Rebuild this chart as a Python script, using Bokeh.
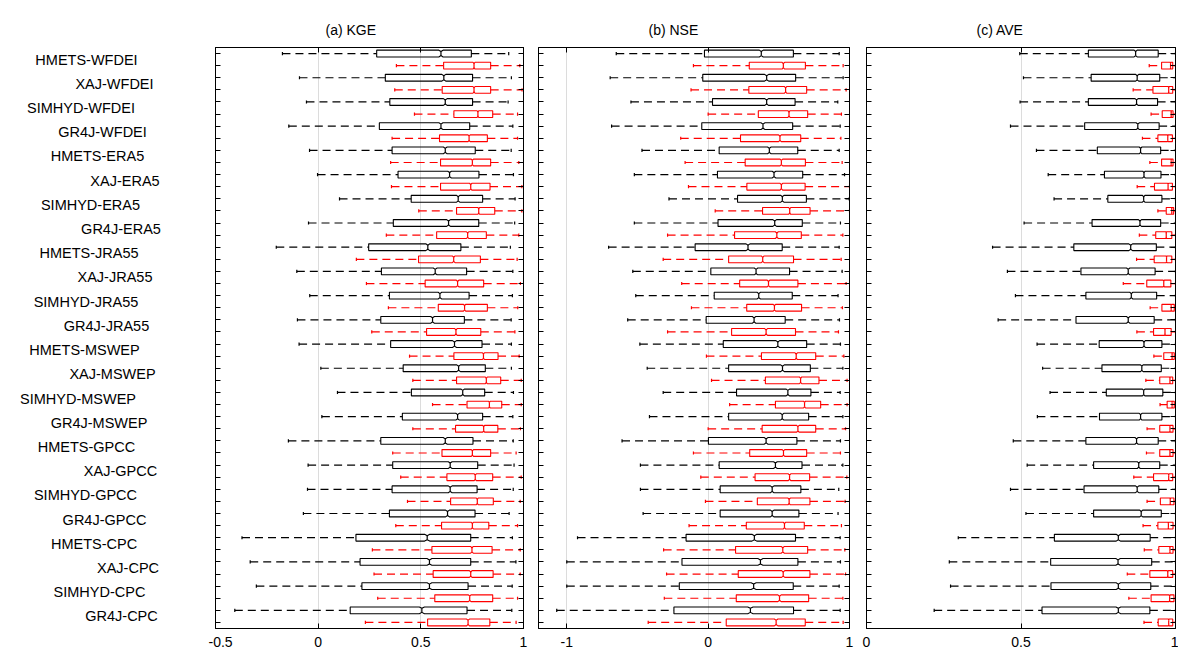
import numpy as np
from bokeh.plotting import figure
from bokeh.layouts import row
from bokeh.models import Range1d, FixedTicker, LinearAxis, ColumnDataSource
from bokeh.embed import file_html
from bokeh.resources import INLINE
from bokeh.core.properties import value

# ---------------- data ----------------
labels = ["HMETS-WFDEI", "XAJ-WFDEI", "SIMHYD-WFDEI", "GR4J-WFDEI",
          "HMETS-ERA5", "XAJ-ERA5", "SIMHYD-ERA5", "GR4J-ERA5",
          "HMETS-JRA55", "XAJ-JRA55", "SIMHYD-JRA55", "GR4J-JRA55",
          "HMETS-MSWEP", "XAJ-MSWEP", "SIMHYD-MSWEP", "GR4J-MSWEP",
          "HMETS-GPCC", "XAJ-GPCC", "SIMHYD-GPCC", "GR4J-GPCC",
          "HMETS-CPC", "XAJ-CPC", "SIMHYD-CPC", "GR4J-CPC"]
# rows alternate: black (first of each pair) then red
row_colors = ["#000000", "#ff0000"] * 24

kge_lo = [-0.174, 0.381, -0.091, 0.373, -0.057, 0.469, -0.143, 0.360, -0.042, 0.353, -0.003, 0.357,
          0.104, 0.490, -0.047, 0.332, -0.204, 0.186, -0.104, 0.235, -0.041, 0.342, -0.101, 0.261,
          -0.093, 0.445, 0.013, 0.461, 0.094, 0.557, 0.018, 0.461, -0.145, 0.363, -0.049, 0.402,
          -0.052, 0.435, -0.072, 0.378, -0.371, 0.264, -0.331, 0.272, -0.301, 0.290, -0.406, 0.230]
kge_q1 = [0.285, 0.611, 0.327, 0.604, 0.349, 0.661, 0.298, 0.591, 0.360, 0.596, 0.389, 0.596,
          0.453, 0.674, 0.366, 0.577, 0.246, 0.489, 0.308, 0.521, 0.347, 0.585, 0.305, 0.528,
          0.353, 0.661, 0.414, 0.674, 0.454, 0.725, 0.410, 0.669, 0.305, 0.603, 0.363, 0.627,
          0.360, 0.645, 0.347, 0.601, 0.184, 0.554, 0.204, 0.560, 0.213, 0.568, 0.156, 0.533]
kge_med = [0.598, 0.759, 0.612, 0.759, 0.619, 0.778, 0.598, 0.735, 0.619, 0.751, 0.640, 0.743,
           0.682, 0.782, 0.635, 0.728, 0.534, 0.660, 0.570, 0.679, 0.593, 0.713, 0.557, 0.671,
           0.664, 0.805, 0.684, 0.819, 0.704, 0.834, 0.679, 0.806, 0.619, 0.751, 0.643, 0.765,
           0.643, 0.775, 0.630, 0.751, 0.531, 0.749, 0.542, 0.743, 0.542, 0.738, 0.505, 0.730]
kge_q3 = [0.746, 0.840, 0.752, 0.840, 0.752, 0.850, 0.738, 0.824, 0.765, 0.840, 0.783, 0.837,
          0.801, 0.860, 0.782, 0.819, 0.695, 0.790, 0.723, 0.806, 0.735, 0.824, 0.712, 0.792,
          0.798, 0.876, 0.814, 0.889, 0.811, 0.894, 0.801, 0.875, 0.754, 0.840, 0.777, 0.850,
          0.774, 0.853, 0.764, 0.831, 0.743, 0.847, 0.743, 0.852, 0.730, 0.850, 0.725, 0.836]
kge_hi = [0.928, 0.982, 0.941, 0.993, 0.925, 0.971, 0.948, 0.971, 0.940, 0.977, 0.951, 0.992,
          0.959, 0.992, 0.957, 0.977, 0.936, 0.969, 0.948, 0.985, 0.946, 0.972, 0.940, 0.958,
          0.941, 0.979, 0.941, 0.989, 0.951, 0.989, 0.948, 0.985, 0.950, 0.964, 0.954, 0.989,
          0.950, 0.984, 0.930, 0.971, 0.946, 0.984, 0.963, 0.984, 0.945, 0.971, 0.943, 0.964]

nse_lo = [-0.650, -0.104, -0.693, -0.121, -0.546, 0.000, -0.683, -0.194, -0.468, -0.163, -0.522, -0.139,
          -0.277, 0.050, -0.522, -0.287, -0.704, -0.318, -0.533, -0.187, -0.512, -0.118, -0.569, -0.287,
          -0.483, -0.012, -0.431, 0.024, -0.318, 0.152, -0.415, 0.000, -0.609, -0.104, -0.479, -0.052,
          -0.479, -0.019, -0.460, -0.135, -0.924, -0.315, -1.000, -0.294, -1.000, -0.310, -1.071, -0.424]
nse_q1 = [-0.026, 0.291, -0.038, 0.288, 0.031, 0.355, -0.045, 0.229, 0.078, 0.262, 0.066, 0.274,
          0.208, 0.385, 0.070, 0.187, -0.092, 0.145, 0.019, 0.223, 0.043, 0.273, -0.014, 0.166,
          0.107, 0.377, 0.145, 0.405, 0.201, 0.476, 0.145, 0.382, 0.002, 0.294, 0.078, 0.332,
          0.085, 0.348, 0.085, 0.270, -0.156, 0.194, -0.185, 0.213, -0.204, 0.199, -0.242, 0.128]
nse_med = [0.376, 0.532, 0.414, 0.548, 0.414, 0.572, 0.388, 0.508, 0.433, 0.518, 0.466, 0.518,
           0.525, 0.577, 0.471, 0.486, 0.282, 0.386, 0.339, 0.427, 0.358, 0.469, 0.325, 0.410,
           0.493, 0.623, 0.526, 0.654, 0.564, 0.682, 0.524, 0.635, 0.410, 0.533, 0.476, 0.576,
           0.453, 0.573, 0.453, 0.540, 0.327, 0.528, 0.370, 0.531, 0.322, 0.505, 0.299, 0.481]
nse_q3 = [0.603, 0.688, 0.619, 0.697, 0.615, 0.704, 0.598, 0.655, 0.634, 0.688, 0.669, 0.686,
          0.695, 0.721, 0.666, 0.659, 0.524, 0.604, 0.576, 0.635, 0.595, 0.661, 0.545, 0.618,
          0.697, 0.761, 0.723, 0.784, 0.727, 0.796, 0.711, 0.761, 0.628, 0.697, 0.664, 0.718,
          0.656, 0.720, 0.642, 0.680, 0.618, 0.704, 0.635, 0.720, 0.602, 0.711, 0.604, 0.687]
nse_hi = [0.927, 0.955, 0.955, 0.976, 0.917, 0.943, 0.934, 0.939, 0.927, 0.948, 0.965, 1.000,
          0.998, 1.000, 0.936, 0.953, 0.927, 0.941, 0.948, 0.976, 0.919, 0.950, 0.929, 0.922,
          0.936, 0.960, 0.953, 0.983, 0.934, 0.983, 0.953, 0.972, 0.936, 0.936, 0.953, 0.981,
          0.924, 0.969, 0.919, 0.943, 0.934, 0.967, 0.936, 0.972, 0.927, 0.953, 0.934, 0.955]

ave_lo = [0.496, 0.915, 0.508, 0.863, 0.497, 0.921, 0.466, 0.893, 0.550, 0.917, 0.588, 0.876,
          0.607, 0.943, 0.510, 0.883, 0.408, 0.874, 0.456, 0.831, 0.482, 0.918, 0.426, 0.875,
          0.552, 0.930, 0.570, 0.904, 0.594, 0.950, 0.553, 0.908, 0.475, 0.906, 0.520, 0.865,
          0.466, 0.908, 0.516, 0.895, 0.297, 0.899, 0.268, 0.844, 0.272, 0.849, 0.219, 0.898]
ave_q1 = [0.718, 0.955, 0.727, 0.927, 0.718, 0.957, 0.706, 0.943, 0.747, 0.955, 0.770, 0.932,
          0.781, 0.970, 0.730, 0.936, 0.671, 0.931, 0.694, 0.907, 0.710, 0.956, 0.678, 0.929,
          0.753, 0.962, 0.762, 0.949, 0.776, 0.973, 0.754, 0.949, 0.710, 0.949, 0.735, 0.929,
          0.704, 0.951, 0.735, 0.943, 0.608, 0.946, 0.596, 0.917, 0.597, 0.921, 0.568, 0.944]
ave_med = [0.871, 0.984, 0.876, 0.978, 0.874, 0.986, 0.878, 0.975, 0.887, 0.986, 0.898, 0.976,
           0.897, 0.988, 0.885, 0.970, 0.855, 0.971, 0.847, 0.962, 0.857, 0.986, 0.847, 0.966,
           0.898, 0.989, 0.891, 0.982, 0.897, 0.989, 0.887, 0.982, 0.874, 0.982, 0.881, 0.978,
           0.876, 0.983, 0.889, 0.977, 0.815, 0.982, 0.814, 0.975, 0.815, 0.981, 0.815, 0.978]
ave_q3 = [0.944, 0.991, 0.949, 0.991, 0.942, 0.992, 0.947, 0.990, 0.952, 0.992, 0.953, 0.990,
          0.956, 0.994, 0.952, 0.988, 0.938, 0.988, 0.934, 0.985, 0.939, 0.996, 0.931, 0.986,
          0.956, 0.996, 0.954, 0.991, 0.959, 0.996, 0.956, 0.992, 0.944, 0.992, 0.949, 0.991,
          0.946, 0.995, 0.954, 0.992, 0.918, 0.992, 0.923, 0.991, 0.920, 0.995, 0.917, 0.991]
ave_hi = [1.0] * 48

panel_titles = ["(a) KGE", "(b) NSE", "(c) AVE"]
kge_ticks = [-0.5, 0, 0.5, 1]
kge_tick_labels = ["-0.5", "0", "0.5", "1"]
nse_ticks = [-1, 0, 1]
nse_tick_labels = ["-1", "0", "1"]
ave_ticks = [0, 0.5, 1]
ave_tick_labels = ["0", "0.5", "1"]

# ---------------- layout / style constants ----------------
FONT = "Liberation Sans"
FS = "14px"
LFS = "14.5px"
FRAME_H = 581
TOP = 47
BOTTOM = 24
H = TOP + FRAME_H + BOTTOM
N_OBS = 5000          # notch size from 1.57*IQR/sqrt(n)
BOX_H = 0.28          # half box height in row units
NOTCH_K = 0.6         # inner notch half-height fraction
CAP_H = 0.13
LW = 208
TITLE_OFFSET = 110    # px from frame left to title start
label_centers_px = [86, 114, 80.5, 102, 97, 124.5, 90, 120.5, 88.5, 114.5, 85.5, 106,
                    84, 112, 77.5, 98.5, 86, 120, 85, 104, 93.5, 127.5, 99, 121]

n_rows = len(row_colors)
ypos = np.arange(1, n_rows + 1)
yr = (n_rows + 0.5, 0.5)


def hidden_label_axis(ticker):
    return LinearAxis(ticker=ticker, major_tick_in=5, major_tick_out=0,
                      minor_tick_line_color=None, major_label_text_font_size="0px",
                      major_label_text_color=None, major_label_standoff=0,
                      axis_line_color="#000000", major_tick_line_color="#000000")


def make_panel(title, lo, q1, med, q3, hi, xr, ticks, tick_labels, frame_w, bl, br):
    p = figure(width=bl + frame_w + br, height=H,
               x_range=Range1d(*xr), y_range=Range1d(*yr),
               output_backend="svg", toolbar_location=None,
               min_border_left=bl, min_border_right=br,
               min_border_top=TOP, min_border_bottom=BOTTOM,
               title=title, x_axis_location=None, y_axis_location=None)
    p.title.align = "left"
    p.title.offset = TITLE_OFFSET
    p.title.text_font = FONT
    p.title.text_font_size = FS
    p.title.text_font_style = "normal"
    p.title.text_color = "#000000"
    p.title.standoff = 19
    p.outline_line_color = "#000000"
    p.outline_line_alpha = 1.0
    p.background_fill_color = "white"
    p.border_fill_color = "white"

    lo = np.array(lo); q1 = np.array(q1); med = np.array(med)
    q3 = np.array(q3); hi = np.array(hi)
    nh = 1.57 * (q3 - q1) / np.sqrt(N_OBS)
    nlo = np.maximum(med - nh, q1)
    nhi = np.minimum(med + nh, q3)

    xs, ys = [], []
    for i in range(n_rows):
        y = ypos[i]
        xs.append([q1[i], nlo[i], med[i], nhi[i], q3[i], q3[i], nhi[i], med[i], nlo[i], q1[i]])
        ys.append([y - BOX_H, y - BOX_H, y - BOX_H * NOTCH_K, y - BOX_H, y - BOX_H,
                   y + BOX_H, y + BOX_H, y + BOX_H * NOTCH_K, y + BOX_H, y + BOX_H])

    src = ColumnDataSource(dict(y=ypos, lo=lo, q1=q1, med=med, q3=q3, hi=hi,
                                c=row_colors, ylo=ypos - CAP_H, yhi=ypos + CAP_H,
                                mlo=ypos - BOX_H * NOTCH_K, mhi=ypos + BOX_H * NOTCH_K))
    p.segment(x0="lo", y0="y", x1="q1", y1="y", source=src, line_color="c",
              line_width=1.2, line_dash="8 5")
    p.segment(x0="q3", y0="y", x1="hi", y1="y", source=src, line_color="c",
              line_width=1.2, line_dash="8 5")
    p.segment(x0="lo", y0="ylo", x1="lo", y1="yhi", source=src, line_color="c", line_width=1.2)
    p.segment(x0="hi", y0="ylo", x1="hi", y1="yhi", source=src, line_color="c", line_width=1.2)
    p.patches(xs=xs, ys=ys, fill_color=None, line_color=row_colors, line_width=1.1)
    p.segment(x0="med", y0="mlo", x1="med", y1="mhi", source=src, line_color="c", line_width=1.2)

    # axes
    xt = FixedTicker(ticks=ticks)
    yt = FixedTicker(ticks=list(ypos))
    overrides = {t: s for t, s in zip(ticks, tick_labels)}
    ax = LinearAxis(ticker=xt, major_label_overrides=overrides,
                    major_tick_in=5, major_tick_out=0, minor_tick_line_color=None,
                    major_label_standoff=8, major_label_text_font=FONT,
                    major_label_text_font_size=FS, major_label_text_color="#000000",
                    axis_line_color="#000000", major_tick_line_color="#000000")
    p.add_layout(ax, "below")
    p.add_layout(hidden_label_axis(xt), "above")
    p.add_layout(hidden_label_axis(yt), "left")
    p.add_layout(hidden_label_axis(yt), "right")

    p.xgrid.ticker = xt
    p.xgrid.grid_line_color = "#dcdcdc"
    p.xgrid.grid_line_width = 1
    p.ygrid.grid_line_color = None
    return p


# label column (x data units = page pixels)
lab = figure(width=LW, height=H,
             x_range=Range1d(0, LW), y_range=Range1d(*yr),
             output_backend="svg", toolbar_location=None,
             min_border_left=0, min_border_right=0,
             min_border_top=TOP, min_border_bottom=BOTTOM,
             x_axis_location=None, y_axis_location=None)
lab.grid.grid_line_color = None
lab.outline_line_color = None
lab_y = [2 * j + 1.5 for j in range(len(labels))]
lab.text(x=label_centers_px, y=lab_y, text=labels, text_align="center",
         text_baseline="middle", text_font=value(FONT), text_font_size=LFS,
         text_color="#000000")

pa = make_panel(panel_titles[0], kge_lo, kge_q1, kge_med, kge_q3, kge_hi,
                (-0.5, 1.0), kge_ticks, kge_tick_labels, 308, 7, 7)
pb = make_panel(panel_titles[1], nse_lo, nse_q1, nse_med, nse_q3, nse_hi,
                (-1.2, 1.0), nse_ticks, nse_tick_labels, 311, 8, 8)
pc = make_panel(panel_titles[2], ave_lo, ave_q1, ave_med, ave_q3, ave_hi,
                (0.0, 1.0), ave_ticks, ave_tick_labels, 309, 9, 3)

layout = row(lab, pa, pb, pc)
open("out.html", "w").write(file_html(layout, INLINE))
